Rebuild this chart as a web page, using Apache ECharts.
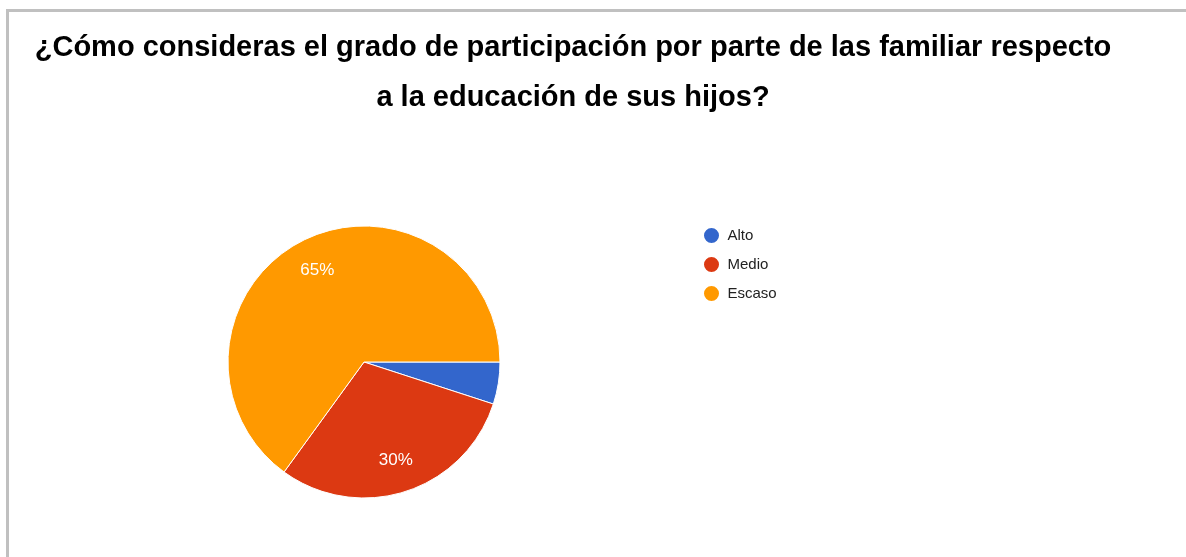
<!DOCTYPE html>
<html>
<head>
<meta charset="utf-8">
<script src="https://cdn.jsdelivr.net/npm/echarts@6/dist/echarts.min.js"></script>
<style>
  html, body { margin: 0; padding: 0; background: #fff; }
  #chart { width: 1186px; height: 557px; }
</style>
</head>
<body>
<div id="chart"></div>
<script>
var categories = ['Alto', 'Medio', 'Escaso'];
var values = [5, 30, 65];
var colors = ['#3366cc', '#dc3912', '#ff9900'];

var pieData = categories.map(function (name, i) {
    return { name: name, value: values[i], itemStyle: { color: colors[i] } };
});
// solo etiquetas (anillo invisible mas grande para ubicar el % a ~3/4 del radio)
var labelData = categories.map(function (name, i) {
    return {
        name: name,
        value: values[i],
        itemStyle: { color: 'rgba(0,0,0,0)' },
        label: { show: values[i] >= 10 }
    };
});

var chart = echarts.init(document.getElementById('chart'));
var option = {
    backgroundColor: '#fff',
    animation: false,
    title: {
        text: '¿Cómo consideras el grado de participación por parte de las familiar respecto\na la educación de sus hijos?',
        left: 568,
        top: 18,
        textAlign: 'center',
        textStyle: {
            fontFamily: 'Liberation Sans, Arial, sans-serif',
            fontWeight: 'bold',
            fontSize: 29,
            lineHeight: 50,
            color: '#000'
        }
    },
    legend: {
        orient: 'vertical',
        left: 697,
        top: 221,
        icon: 'circle',
        itemWidth: 22,
        itemHeight: 17,
        itemGap: 10,
        data: categories,
        textStyle: {
            fontFamily: 'Liberation Sans, Arial, sans-serif',
            fontSize: 15,
            color: '#222'
        }
    },
    graphic: [
        { type: 'rect', shape: { x: 6, y: 9, width: 1180, height: 3 }, style: { fill: '#c0c0c0' } },
        { type: 'rect', shape: { x: 6, y: 9, width: 3, height: 548 }, style: { fill: '#c0c0c0' } }
    ],
    series: [
        {
            name: 'grado',
            type: 'pie',
            center: [364, 362],
            radius: [0, 136],
            startAngle: 0,
            clockwise: true,
            silent: true,
            itemStyle: { borderColor: '#fff', borderWidth: 1 },
            label: { show: false },
            labelLine: { show: false },
            data: pieData
        },
        {
            name: 'etiquetas',
            type: 'pie',
            center: [364, 362],
            radius: [0, 200],
            startAngle: 0,
            clockwise: true,
            silent: true,
            z: 3,
            label: {
                position: 'inside',
                formatter: '{d}%',
                color: '#fff',
                fontFamily: 'Liberation Sans, Arial, sans-serif',
                fontSize: 17
            },
            labelLine: { show: false },
            data: labelData
        }
    ]
};
chart.setOption(option);
</script>
</body>
</html>
